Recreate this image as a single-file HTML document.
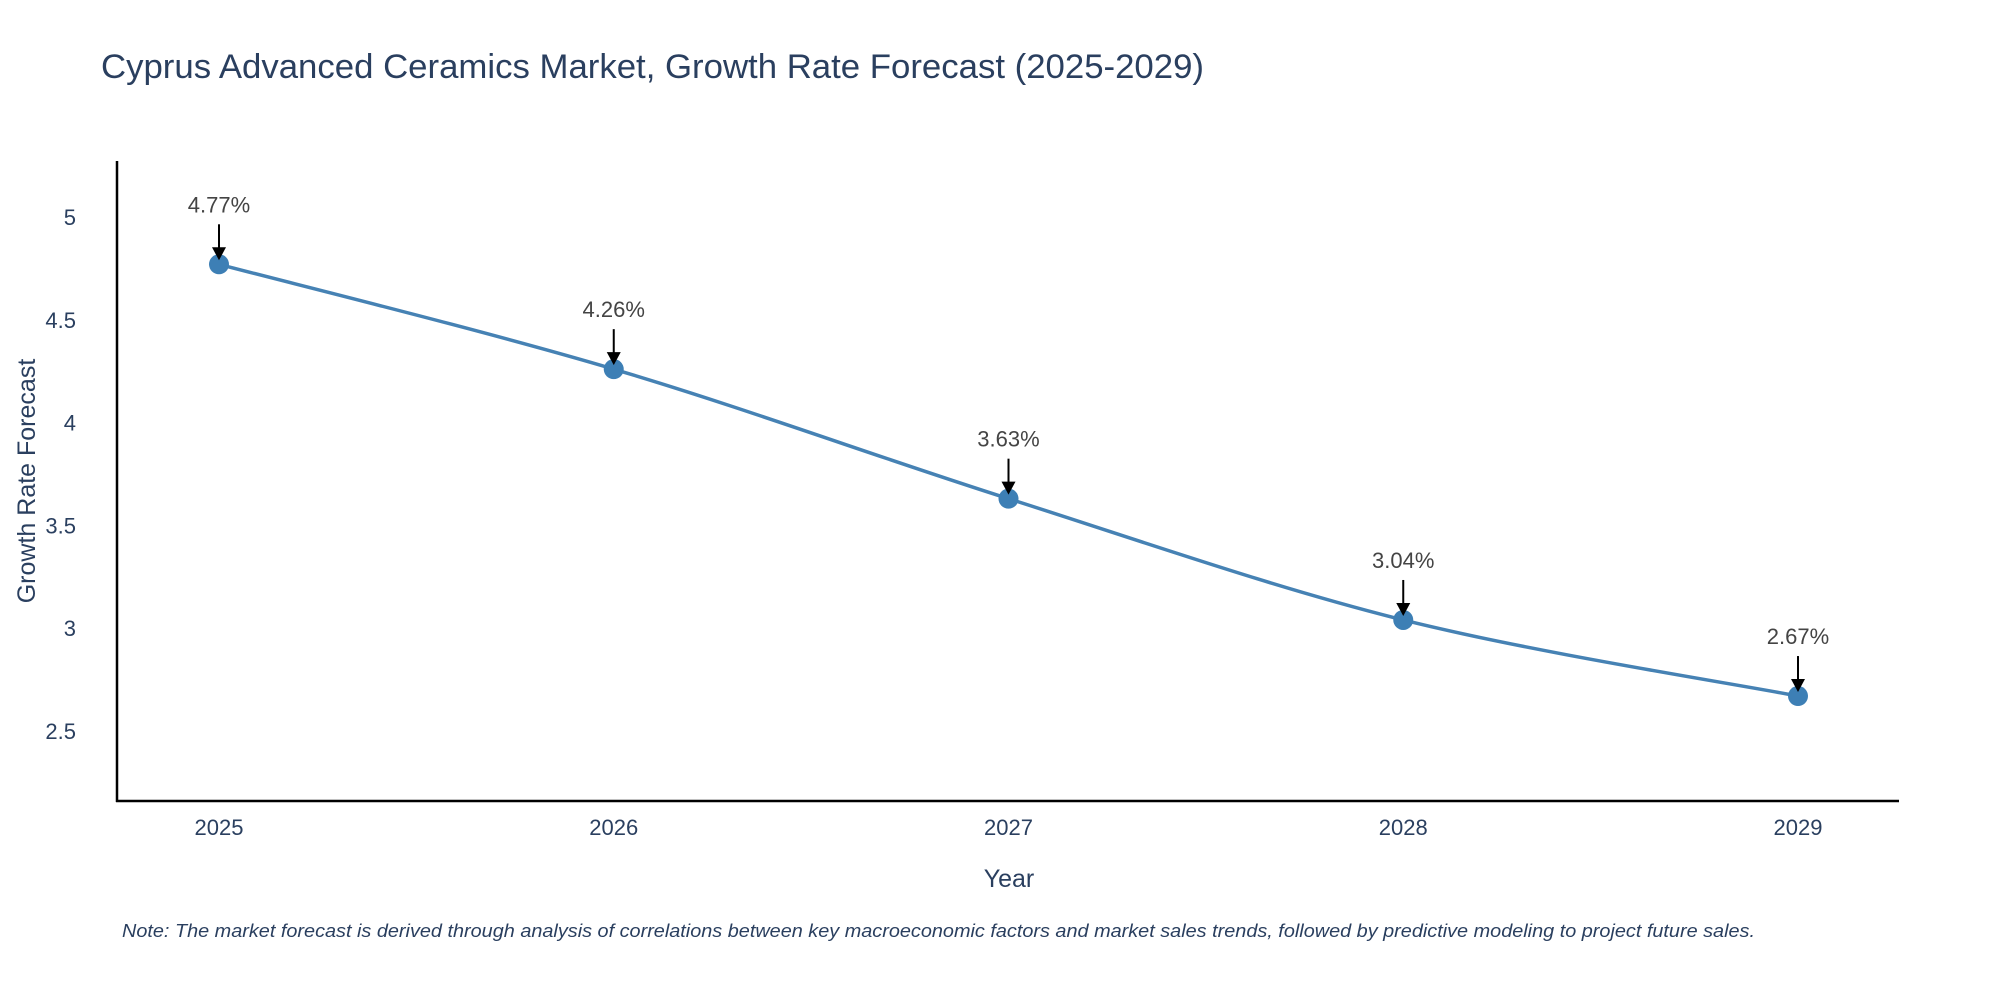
<!DOCTYPE html>
<html><head><meta charset="utf-8">
<style>
body{margin:0;background:#fff;width:2000px;height:1000px;overflow:hidden;font-family:"Liberation Sans",sans-serif}
</style></head>
<body>
<svg id="chart" width="2000" height="1000">
<text x="101" y="78" font-size="34" fill="#2a3f5f" textLength="1103" lengthAdjust="spacingAndGlyphs">Cyprus Advanced Ceramics Market, Growth Rate Forecast (2025-2029)</text>
<line x1="117" y1="161" x2="117" y2="802" stroke="#000" stroke-width="2.5"/>
<line x1="116" y1="801" x2="1899" y2="801" stroke="#000" stroke-width="2.5"/>
<text x="35" y="481" font-size="25" fill="#2a3f5f" text-anchor="middle" transform="rotate(-90 35 481)">Growth Rate Forecast</text>
<text x="1009" y="887" font-size="25" fill="#2a3f5f" text-anchor="middle">Year</text>
<text x="122" y="937" font-size="18" font-style="italic" fill="#2a3f5f" textLength="1633" lengthAdjust="spacingAndGlyphs">Note: The market forecast is derived through analysis of correlations between key macroeconomic factors and market sales trends, followed by predictive modeling to project future sales.</text>
<g id="plot"></g>
</svg>
<script>
const years = [2025, 2026, 2027, 2028, 2029];
const values = [4.77, 4.26, 3.63, 3.04, 2.67];
const yTicks = [2.5, 3, 3.5, 4, 4.5, 5];
const yTickLabels = ["2.5", "3", "3.5", "4", "4.5", "5"];
const NS = "http://www.w3.org/2000/svg";
const xS = v => 219 + (v - 2025) * (1798 - 219) / 4;
const yS = v => 217 + (5 - v) * 205.6;
const svg = document.getElementById('chart');
const plot = document.getElementById('plot');
function mk(tag, attrs, parent){const e=document.createElementNS(NS,tag);for(const k in attrs)e.setAttribute(k,attrs[k]);(parent||plot).appendChild(e);return e;}
yTicks.forEach((t,i)=>{
  const e=mk('text',{x:76,y:yS(t)+8,'font-size':22,fill:'#2a3f5f','text-anchor':'end'},svg);
  e.textContent=yTickLabels[i];
  
  
});
years.forEach(y=>{
  const e=mk('text',{x:xS(y),y:835,'font-size':22,fill:'#2a3f5f','text-anchor':'middle'},svg);
  e.textContent=String(y);
  
  
});
const pts = years.map((y,i)=>[xS(y), yS(values[i])]);
let d = `M${pts[0][0]},${pts[0][1]}`;
for(let i=0;i<pts.length-1;i++){
  const p0=pts[Math.max(0,i-1)],p1=pts[i],p2=pts[i+1],p3=pts[Math.min(pts.length-1,i+2)];
  const t=1/6;
  d+=` C${p1[0]+(p2[0]-p0[0])*t},${p1[1]+(p2[1]-p0[1])*t} ${p2[0]-(p3[0]-p1[0])*t},${p2[1]-(p3[1]-p1[1])*t} ${p2[0]},${p2[1]}`;
}
const line=mk('path',{d:d,fill:'none',stroke:'#4682b4','stroke-width':3.5});


pts.forEach((p,i)=>{
  const c=mk('circle',{cx:p[0],cy:p[1],r:10,fill:'#3d7fb5'});
  
  
  const a=mk('line',{x1:p[0],y1:p[1]-40,x2:p[0],y2:p[1]-16,stroke:'#000','stroke-width':2});
  
  
  const h=mk('path',{d:`M${p[0]-7},${p[1]-17} L${p[0]+7},${p[1]-17} L${p[0]},${p[1]-4} Z`,fill:'#000'});
  
  
  const t=mk('text',{x:p[0],y:p[1]-52,'font-size':22,fill:'#444','text-anchor':'middle'});
  t.textContent=values[i].toFixed(2)+'%';
  
  
});
</script>
</body></html>
